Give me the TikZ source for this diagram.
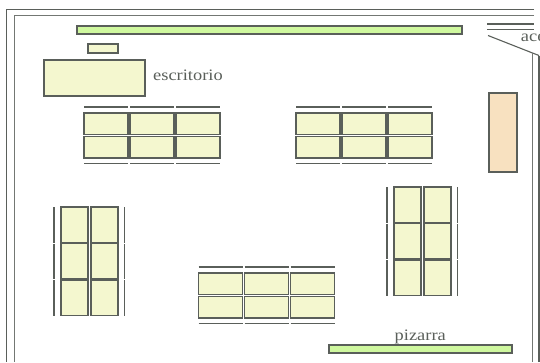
\documentclass[tikz,border=0pt]{standalone}
\usepackage{fontspec}
\setmainfont{Liberation Serif}
\usepackage{tikz}
\usetikzlibrary{positioning}
\definecolor{deskfill}{HTML}{F4F7CF}
\definecolor{barfill}{HTML}{CFF89F}
\definecolor{shelffill}{HTML}{F8E1C0}
\definecolor{linegray}{HTML}{5A5F5A}
\tikzset{
  flat/.style={draw=linegray, line width=1.3pt, fill=deskfill, inner sep=0pt, outer sep=0pt},
  wide/.style={flat, minimum width=44pt, minimum height=21.5pt},
  tall/.style={flat, minimum width=27pt, minimum height=35.5pt},
  wall/.style={draw=linegray, line width=1.1pt},
  thickwall/.style={draw=linegray!85, line width=1.7pt},
  bench/.style={draw=linegray, line width=1.3pt},
  word/.style={text=linegray, font=\fontsize{16}{16}\selectfont, xscale=1.15, inner sep=0pt}
}
\begin{document}
\begin{tikzpicture}[x=1pt,y=-1pt,node distance=2pt and 2pt]
\useasboundingbox (0,0) rectangle (540,362);
% walls
\coordinate (a1) at (534,9.5);
\coordinate (a2) at (6.5,9.5);
\coordinate (a3) at (6.5,362);
\coordinate (b1) at (534,15.5);
\coordinate (b2) at (14.5,15.5);
\coordinate (b3) at (14.5,362);
\draw[wall] (a1) -- (a2) -- (a3);
\draw[thickwall] (b1) -- (b2) -- (b3);
\coordinate (c1) at (487,24);
\coordinate (c2) at (534,24);
\coordinate (c3) at (487,29.5);
\coordinate (c4) at (534,29.5);
\coordinate (c5) at (488,35.5);
\coordinate (c6) at (532.5,53);
\coordinate (c7) at (539,55.5);
\coordinate (c8) at (532.5,362);
\coordinate (c9) at (539,362);
\draw[wall] (c1) -- (c2);
\draw[wall] (c3) -- (c4);
\draw[wall] (c5) -- (c6) -- (c7);
\draw[thickwall] (c6) -- (c8);
\draw[wall] (c7) -- (c9);
% front
\node[flat, fill=barfill, minimum width=385pt, minimum height=8pt, anchor=north west] (topbar) at (77,26) {};
\node[flat, minimum width=30pt, minimum height=9pt, anchor=north west] (chair) at (88,44) {};
\node[flat, minimum width=101pt, minimum height=36pt, anchor=north west] (desk) at (44,60) {};
\node[word, anchor=base west] (desklabel) at (153,80) {escritorio};
\node[flat, fill=shelffill, minimum width=28pt, minimum height=79pt, anchor=north west] (shelf) at (489,93) {};
\node[flat, fill=barfill, minimum width=183pt, minimum height=8pt, anchor=north west] (board) at (329,345) {};
\node[word, anchor=base west] (boardlabel) at (394.5,340) {pizarra};
\node[word, anchor=base west] (door) at (520.7,41) {ace};
% first group
\node[wide, anchor=north west] (p11) at (84,113) {};
\node[wide, right=of p11] (p12) {};
\node[wide, right=of p12] (p13) {};
\node[wide, below=of p11] (p21) {};
\node[wide, right=of p21] (p22) {};
\node[wide, right=of p22] (p23) {};
\draw[bench] ([yshift=6pt]p11.north west) -- ([yshift=6pt]p11.north east);
\draw[bench] ([yshift=6pt]p12.north west) -- ([yshift=6pt]p12.north east);
\draw[bench] ([yshift=6pt]p13.north west) -- ([yshift=6pt]p13.north east);
\draw[bench] ([yshift=-5.5pt]p21.south west) -- ([yshift=-5.5pt]p21.south east);
\draw[bench] ([yshift=-5.5pt]p22.south west) -- ([yshift=-5.5pt]p22.south east);
\draw[bench] ([yshift=-5.5pt]p23.south west) -- ([yshift=-5.5pt]p23.south east);
% second group
\node[wide, anchor=north west] (q11) at (296,113) {};
\node[wide, right=of q11] (q12) {};
\node[wide, right=of q12] (q13) {};
\node[wide, below=of q11] (q21) {};
\node[wide, right=of q21] (q22) {};
\node[wide, right=of q22] (q23) {};
\draw[bench] ([yshift=6pt]q11.north west) -- ([yshift=6pt]q11.north east);
\draw[bench] ([yshift=6pt]q12.north west) -- ([yshift=6pt]q12.north east);
\draw[bench] ([yshift=6pt]q13.north west) -- ([yshift=6pt]q13.north east);
\draw[bench] ([yshift=-5.5pt]q21.south west) -- ([yshift=-5.5pt]q21.south east);
\draw[bench] ([yshift=-5.5pt]q22.south west) -- ([yshift=-5.5pt]q22.south east);
\draw[bench] ([yshift=-5.5pt]q23.south west) -- ([yshift=-5.5pt]q23.south east);
% third group
\node[wide, anchor=north west] (r11) at (198.5,273) {};
\node[wide, right=of r11] (r12) {};
\node[wide, right=of r12] (r13) {};
\node[wide, below=of r11] (r21) {};
\node[wide, right=of r21] (r22) {};
\node[wide, right=of r22] (r23) {};
\draw[bench] ([yshift=6pt]r11.north west) -- ([yshift=6pt]r11.north east);
\draw[bench] ([yshift=6pt]r12.north west) -- ([yshift=6pt]r12.north east);
\draw[bench] ([yshift=6pt]r13.north west) -- ([yshift=6pt]r13.north east);
\draw[bench] ([yshift=-5.5pt]r21.south west) -- ([yshift=-5.5pt]r21.south east);
\draw[bench] ([yshift=-5.5pt]r22.south west) -- ([yshift=-5.5pt]r22.south east);
\draw[bench] ([yshift=-5.5pt]r23.south west) -- ([yshift=-5.5pt]r23.south east);
% left group
\node[tall, anchor=north west] (s11) at (61,207) {};
\node[tall, right=3pt of s11] (s12) {};
\node[tall, below=1pt of s11] (s21) {};
\node[tall, right=3pt of s21] (s22) {};
\node[tall, below=1pt of s21] (s31) {};
\node[tall, right=3pt of s31] (s32) {};
\draw[bench] ([xshift=-7pt]s11.north west) -- ([xshift=-7pt]s11.south west);
\draw[bench] ([xshift=-7pt]s21.north west) -- ([xshift=-7pt]s21.south west);
\draw[bench] ([xshift=-7pt]s31.north west) -- ([xshift=-7pt]s31.south west);
\draw[bench] ([xshift=6.5pt]s12.north east) -- ([xshift=6.5pt]s12.south east);
\draw[bench] ([xshift=6.5pt]s22.north east) -- ([xshift=6.5pt]s22.south east);
\draw[bench] ([xshift=6.5pt]s32.north east) -- ([xshift=6.5pt]s32.south east);
% right group
\node[tall, anchor=north west] (t11) at (394,187) {};
\node[tall, right=3pt of t11] (t12) {};
\node[tall, below=1pt of t11] (t21) {};
\node[tall, right=3pt of t21] (t22) {};
\node[tall, below=1pt of t21] (t31) {};
\node[tall, right=3pt of t31] (t32) {};
\draw[bench] ([xshift=-7pt]t11.north west) -- ([xshift=-7pt]t11.south west);
\draw[bench] ([xshift=-7pt]t21.north west) -- ([xshift=-7pt]t21.south west);
\draw[bench] ([xshift=-7pt]t31.north west) -- ([xshift=-7pt]t31.south west);
\draw[bench] ([xshift=6.5pt]t12.north east) -- ([xshift=6.5pt]t12.south east);
\draw[bench] ([xshift=6.5pt]t22.north east) -- ([xshift=6.5pt]t22.south east);
\draw[bench] ([xshift=6.5pt]t32.north east) -- ([xshift=6.5pt]t32.south east);
\end{tikzpicture}
\end{document}
